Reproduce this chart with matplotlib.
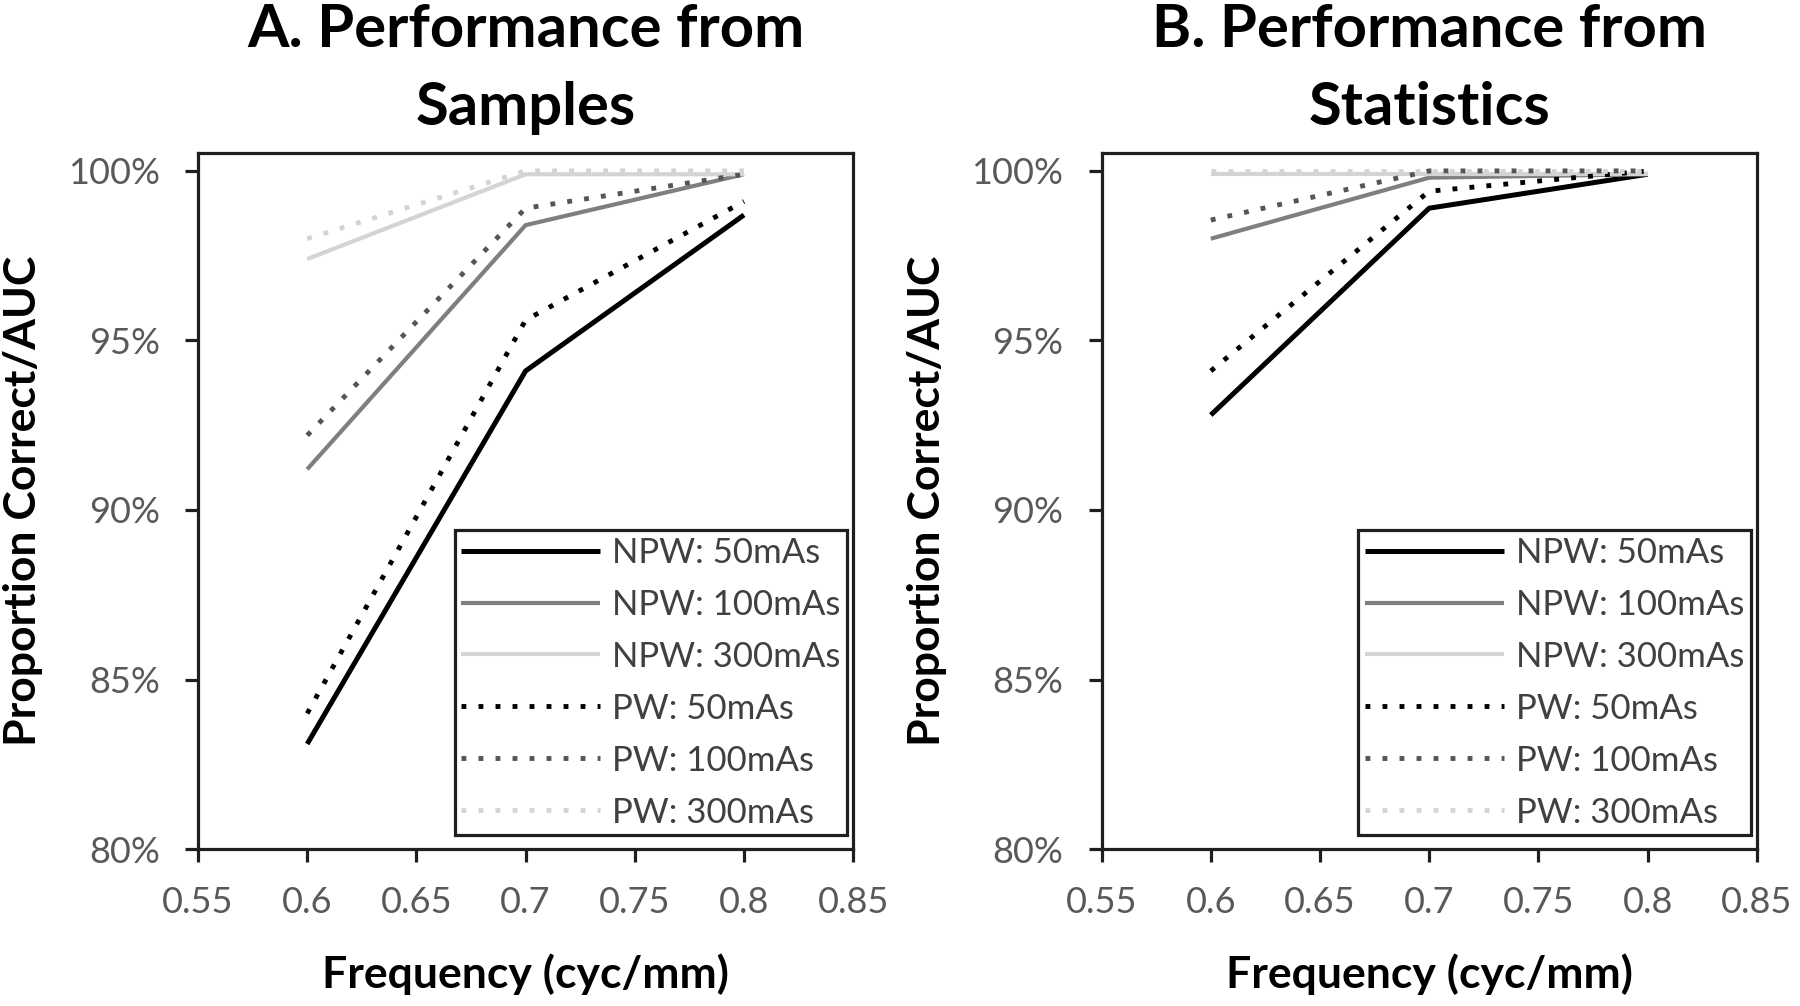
import matplotlib
matplotlib.use("Agg")
import matplotlib.pyplot as plt
from matplotlib.ticker import PercentFormatter

plt.rcParams['font.family'] = ['Lato', 'DejaVu Sans']

# ---- data ----
freq = [0.6, 0.7, 0.8]
series_labels = ["NPW: 50mAs", "NPW: 100mAs", "NPW: 300mAs",
                 "PW: 50mAs", "PW: 100mAs", "PW: 300mAs"]

# Panel A: performance from samples (percent)
a_npw50 = [83.1, 94.1, 98.7]
a_npw100 = [91.2, 98.4, 99.9]
a_npw300 = [97.4, 99.9, 99.9]
a_pw50 = [84.0, 95.6, 99.1]
a_pw100 = [92.2, 98.9, 99.9]
a_pw300 = [98.0, 100.0, 100.0]

# Panel B: performance from statistics (percent)
b_npw50 = [92.8, 98.9, 99.9]
b_npw100 = [98.0, 99.8, 99.9]
b_npw300 = [99.9, 99.9, 99.9]
b_pw50 = [94.1, 99.4, 100.0]
b_pw100 = [98.55, 100.0, 100.0]
b_pw300 = [100.0, 100.0, 100.0]

titles = ["A. Performance from\nSamples", "B. Performance from\nStatistics"]
xlabel = "Frequency (cyc/mm)"
ylabel = "Proportion Correct/AUC"
xticks = [0.55, 0.6, 0.65, 0.7, 0.75, 0.8, 0.85]
xticklabels = ["0.55", "0.6", "0.65", "0.7", "0.75", "0.8", "0.85"]
yticks = [80, 85, 90, 95, 100]

# ---- styles ----
colors = ["#000000", "#7f7f7f", "#d4d4d4", "#000000", "#555555", "#d4d4d4"]
widths = [3.6, 3.0, 3.0, 3.5, 3.5, 3.5]
dot = (0, (1, 2.5))
styles = ["-", "-", "-", dot, dot, dot]

fig = plt.figure(figsize=(18, 10.06), dpi=100)
ax_pos = [[0.110, 0.156, 0.364, 0.692], [0.612, 0.156, 0.364, 0.692]]

panels = [
    [a_npw50, a_npw100, a_npw300, a_pw50, a_pw100, a_pw300],
    [b_npw50, b_npw100, b_npw300, b_pw50, b_pw100, b_pw300],
]

tick_color = "#595959"
for pi, (pos, data) in enumerate(zip(ax_pos, panels)):
    ax = fig.add_axes(pos)
    for vals, c, lw, ls, lab in zip(data, colors, widths, styles, series_labels):
        ax.plot(freq, vals, color=c, lw=lw, linestyle=ls, label=lab,
                solid_capstyle='butt', dash_capstyle='butt')
    ax.set_xlim(0.55, 0.85)
    ax.set_ylim(80, 100.53)
    ax.set_xticks(xticks)
    ax.set_xticklabels(xticklabels)
    ax.set_yticks(yticks)
    ax.yaxis.set_major_formatter(PercentFormatter(xmax=100, decimals=0))
    for s in ax.spines.values():
        s.set_linewidth(2.3)
        s.set_color("#1f1f1f")
    ax.tick_params(axis='both', direction='out', length=9.5, width=2.3,
                   color="#1f1f1f", labelsize=26, labelcolor=tick_color)
    ax.tick_params(axis='x', pad=17)
    ax.tick_params(axis='y', pad=18)
    ax.set_xlabel(xlabel, fontsize=32, fontweight='bold', color='black')
    ax.xaxis.set_label_coords(0.5, -0.15)
    ax.set_ylabel(ylabel, fontsize=32, fontweight='bold', color='black')
    ax.yaxis.set_label_coords(-0.236, 0.5)
    ax.set_title(titles[pi], fontsize=43, fontweight='bold', color='black',
                 linespacing=1.54, pad=20)
    leg = ax.legend(loc='lower right', bbox_to_anchor=(0.991, 0.02),
                    fontsize=25, handlelength=4.0, handletextpad=0.35,
                    labelspacing=0.575, borderpad=0.19, borderaxespad=0,
                    fancybox=False, framealpha=1, edgecolor='#1f1f1f')
    leg.get_frame().set_linewidth(2.3)
    for t in leg.get_texts():
        t.set_color("#404040")

fig.savefig("out.png", dpi=100)
